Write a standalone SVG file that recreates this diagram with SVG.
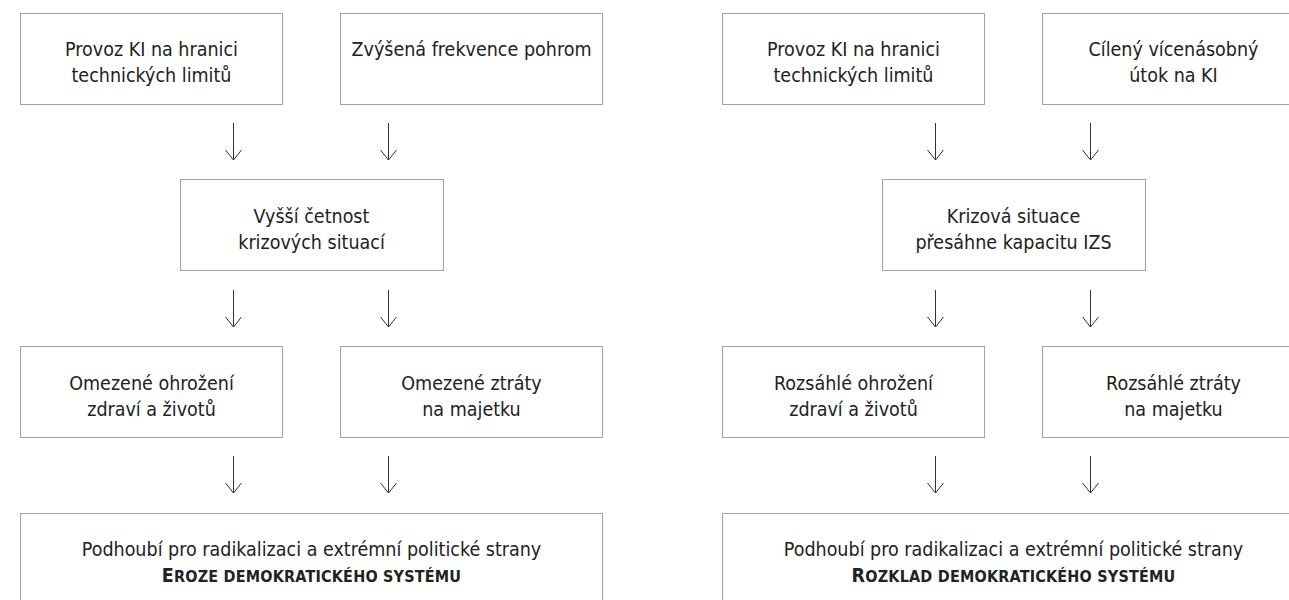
<svg xmlns="http://www.w3.org/2000/svg" width="1289" height="600" viewBox="0 0 1289 600">
  <style>
    .box { fill: #ffffff; stroke: #444444; stroke-width: 1; stroke-dasharray: 1 1; }
    .t { font-family: "DejaVu Sans Condensed", "DejaVu Sans", sans-serif; font-stretch: condensed; font-size: 19.5px; fill: #222222; text-anchor: middle; }
    .b { font-weight: bold; letter-spacing: 0.2px; }
    .sc { font-size: 16px; }
    .arr { fill: none; stroke: #333333; stroke-width: 1; }
  </style>
  <defs>
    <g id="arrow">
      <line class="arr" x1="0" y1="0" x2="0" y2="37"/>
      <polyline class="arr" points="-8,27 0,37 8,27"/>
    </g>
  </defs>
  <rect width="1289" height="600" fill="#ffffff"/>

  <!-- Left panel -->
  <g id="l-provoz">
    <rect class="box" x="20.5" y="13.5" width="262" height="91"/>
    <text class="t" x="151.5" y="56">Provoz KI na hranici</text>
    <text class="t" x="151.5" y="82">technických limitů</text>
  </g>
  <g id="l-pohromy">
    <rect class="box" x="340.5" y="13.5" width="262" height="91"/>
    <text class="t" x="471.5" y="56">Zvýšená frekvence pohrom</text>
  </g>
  <g id="l-cetnost">
    <rect class="box" x="180.5" y="179.5" width="263" height="91"/>
    <text class="t" x="311.5" y="223">Vyšší četnost</text>
    <text class="t" x="311.5" y="249">krizových situací</text>
  </g>
  <g id="l-zdravi">
    <rect class="box" x="20.5" y="346.5" width="262" height="91"/>
    <text class="t" x="151.5" y="390">Omezené ohrožení</text>
    <text class="t" x="151.5" y="416">zdraví a životů</text>
  </g>
  <g id="l-majetek">
    <rect class="box" x="340.5" y="346.5" width="262" height="91"/>
    <text class="t" x="471.5" y="390">Omezené ztráty</text>
    <text class="t" x="471.5" y="416">na majetku</text>
  </g>
  <g id="l-eroze">
    <rect class="box" x="20.5" y="513.5" width="582" height="91"/>
    <text class="t" x="311.5" y="556">Podhoubí pro radikalizaci a extrémní politické strany</text>
    <text class="t b" x="311.5" y="582">E<tspan class="sc">ROZE DEMOKRATICKÉHO SYSTÉMU</tspan></text>
  </g>

  <!-- Right panel -->
  <g id="r-provoz">
    <rect class="box" x="722.5" y="13.5" width="262" height="91"/>
    <text class="t" x="853.5" y="56">Provoz KI na hranici</text>
    <text class="t" x="853.5" y="82">technických limitů</text>
  </g>
  <g id="r-utok">
    <rect class="box" x="1042.5" y="13.5" width="262" height="91"/>
    <text class="t" x="1173.5" y="56">Cílený vícenásobný</text>
    <text class="t" x="1173.5" y="82">útok na KI</text>
  </g>
  <g id="r-krize">
    <rect class="box" x="882.5" y="179.5" width="263" height="91"/>
    <text class="t" x="1013.5" y="223">Krizová situace</text>
    <text class="t" x="1013.5" y="249">přesáhne kapacitu IZS</text>
  </g>
  <g id="r-zdravi">
    <rect class="box" x="722.5" y="346.5" width="262" height="91"/>
    <text class="t" x="853.5" y="390">Rozsáhlé ohrožení</text>
    <text class="t" x="853.5" y="416">zdraví a životů</text>
  </g>
  <g id="r-majetek">
    <rect class="box" x="1042.5" y="346.5" width="262" height="91"/>
    <text class="t" x="1173.5" y="390">Rozsáhlé ztráty</text>
    <text class="t" x="1173.5" y="416">na majetku</text>
  </g>
  <g id="r-rozklad">
    <rect class="box" x="722.5" y="513.5" width="582" height="91"/>
    <text class="t" x="1013.5" y="556">Podhoubí pro radikalizaci a extrémní politické strany</text>
    <text class="t b" x="1013.5" y="582">R<tspan class="sc">OZKLAD DEMOKRATICKÉHO SYSTÉMU</tspan></text>
  </g>

  <!-- Connectors -->
  <g id="connectors">
    <use href="#arrow" x="233.5" y="123"/>
    <use href="#arrow" x="388.5" y="123"/>
    <use href="#arrow" x="233.5" y="290"/>
    <use href="#arrow" x="388.5" y="290"/>
    <use href="#arrow" x="233.5" y="456"/>
    <use href="#arrow" x="388.5" y="456"/>
    <use href="#arrow" x="935.5" y="123"/>
    <use href="#arrow" x="1090.5" y="123"/>
    <use href="#arrow" x="935.5" y="290"/>
    <use href="#arrow" x="1090.5" y="290"/>
    <use href="#arrow" x="935.5" y="456"/>
    <use href="#arrow" x="1090.5" y="456"/>
  </g>
</svg>
